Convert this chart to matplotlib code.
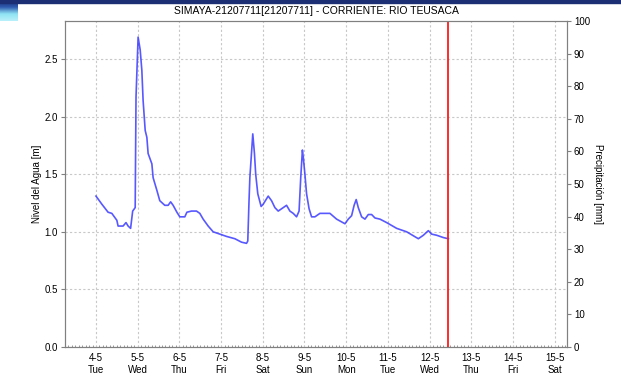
import matplotlib
matplotlib.use("Agg")
import matplotlib.pyplot as plt
import numpy as np
from matplotlib.colors import LinearSegmentedColormap
from matplotlib.ticker import MultipleLocator

# water level series: day of May (fractional) and level in metres
days = [4.00, 4.14, 4.29, 4.38, 4.50, 4.53, 4.65, 4.72, 4.77, 4.83, 4.88, 4.94,
        4.96, 5.01, 5.06, 5.10, 5.13, 5.18, 5.22, 5.25, 5.34, 5.37, 5.46, 5.53,
        5.65, 5.73, 5.79, 5.85, 5.94, 6.01, 6.13, 6.18, 6.29, 6.41, 6.49, 6.57,
        6.69, 6.81, 6.89, 7.13, 7.33, 7.49, 7.61, 7.64, 7.67, 7.69, 7.76, 7.80,
        7.83, 7.88, 7.96, 8.01, 8.13, 8.21, 8.29, 8.37, 8.49, 8.57, 8.65, 8.73,
        8.81, 8.87, 8.91, 8.95, 8.97, 9.01, 9.05, 9.11, 9.17, 9.25, 9.37, 9.61,
        9.77, 9.97, 10.05, 10.13, 10.19, 10.24, 10.29, 10.37, 10.45, 10.53,
        10.61, 10.69, 10.81, 10.97, 11.21, 11.45, 11.73, 11.85, 11.97, 12.05,
        12.17, 12.33, 12.45]
nivel = [1.31, 1.24, 1.17, 1.16, 1.10, 1.05, 1.05, 1.08, 1.05, 1.03, 1.18, 1.21,
         2.17, 2.69, 2.58, 2.40, 2.14, 1.88, 1.82, 1.68, 1.59, 1.47, 1.36, 1.27,
         1.23, 1.23, 1.26, 1.23, 1.17, 1.13, 1.13, 1.17, 1.18, 1.18, 1.16, 1.11,
         1.05, 1.00, 0.99, 0.96, 0.94, 0.91, 0.90, 0.92, 1.27, 1.47, 1.85, 1.68,
         1.50, 1.33, 1.22, 1.24, 1.31, 1.27, 1.21, 1.18, 1.21, 1.23, 1.18, 1.16,
         1.13, 1.18, 1.47, 1.71, 1.65, 1.50, 1.33, 1.20, 1.13, 1.13, 1.16, 1.16,
         1.11, 1.07, 1.11, 1.14, 1.23, 1.28, 1.21, 1.13, 1.11, 1.15,
         1.15, 1.12, 1.11, 1.08, 1.03, 1.00, 0.94, 0.97, 1.01, 0.98,
         0.97, 0.95, 0.94]

tick_days = [4, 5, 6, 7, 8, 9, 10, 11, 12, 13, 14, 15]
weekdays = ["Tue", "Wed", "Thu", "Fri", "Sat", "Sun", "Mon", "Tue", "Wed",
            "Thu", "Fri", "Sat"]
now_day = 12.45

title = "SIMAYA-21207711[21207711] - CORRIENTE: RIO TEUSACA"

plt.rcParams["font.family"] = ["Liberation Sans", "DejaVu Sans"]
fig = plt.figure(figsize=(6.21, 3.78), dpi=100)

# web page header decoration in the corner
hdr = fig.add_axes([0, 1 - 21 / 378, 18 / 621, 21 / 378])
grad = np.linspace(0, 1, 50).reshape(-1, 1)
cm = LinearSegmentedColormap.from_list("hdr", ["#1c2f74", "#2f5cb0", "#8fe3f3", "#b8f0fa"])
hdr.imshow(grad, aspect="auto", cmap=cm, extent=[0, 1, 0, 1])
hdr.axis("off")
fig.patches.append(plt.Rectangle((0, 1 - 3 / 378), 1, 3 / 378, transform=fig.transFigure,
                                 color="#1c2f74", zorder=0))

ax = fig.add_axes([65 / 621, 1 - 347 / 378, 502 / 621, 326 / 378])
ax.plot(days, nivel, color="#3b3bff", lw=1.2, alpha=0.85)
ax.axvline(now_day, color="#ff1a1a", lw=1.3)

ax.set_xlim(3.257, 15.295)
ax.set_ylim(0, 2.83)
ax.set_xticks(tick_days)
ax.set_xticklabels([f"{d}-5\n{w}" for d, w in zip(tick_days, weekdays)], fontsize=7,
                   linespacing=1.25)
ax.xaxis.set_minor_locator(MultipleLocator(1 / 12))
ax.tick_params(axis="x", which="major", length=0, pad=4)
ax.tick_params(axis="x", which="minor", length=1.5, direction="in", color="#888888")
ax.set_yticks(np.arange(0, 2.6, 0.5))
ax.set_yticklabels([f"{v:.1f}" for v in np.arange(0, 2.6, 0.5)], fontsize=7)
ax.tick_params(axis="y", length=3, color="#808080", pad=2)
ax.grid(True, color="#c8c8c8", ls=(0, (2, 2)), lw=0.8)
for s in ax.spines.values():
    s.set_color("#808080")
ax.set_ylabel("Nivel del Agua [m]", fontsize=7, labelpad=2)
ax.set_title(title, fontsize=7.5, pad=5)

ax2 = ax.twinx()
ax2.set_ylim(0, 100)
ax2.set_yticks(range(0, 101, 10))
ax2.tick_params(axis="y", length=3, color="#808080", labelsize=7, pad=2)
for s in ax2.spines.values():
    s.set_color("#808080")
ax2.set_ylabel("Precipitación [mm]", fontsize=7, rotation=270, labelpad=9)

fig.savefig("out.png", dpi=100)
